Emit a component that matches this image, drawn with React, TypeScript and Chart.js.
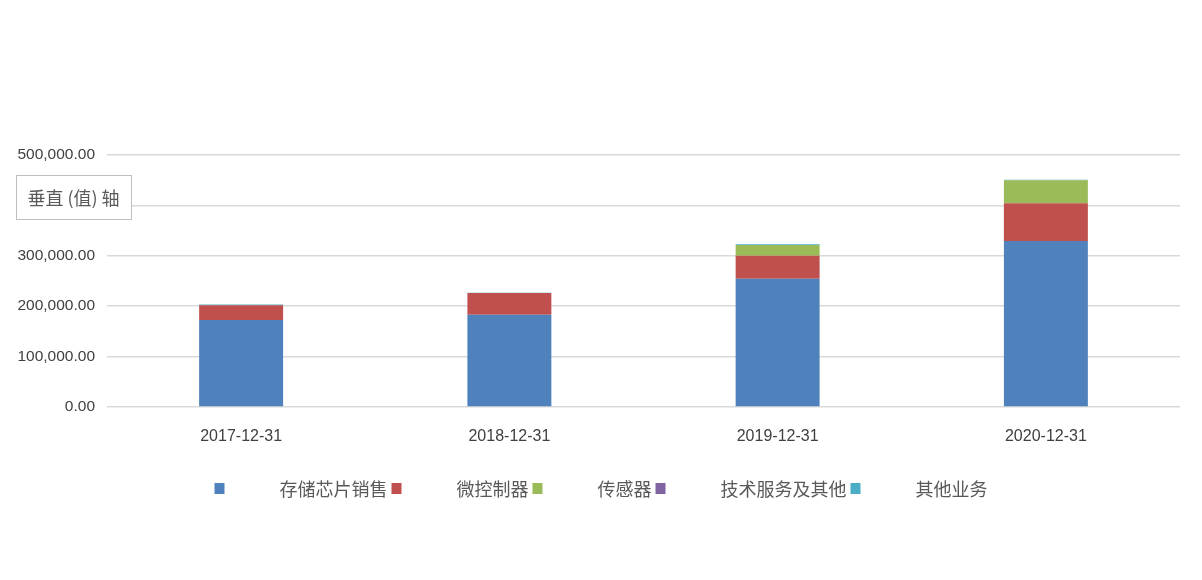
import React, { useEffect, useRef } from "react";
import { Chart, registerables } from "chart.js";

Chart.register(...registerables);

const categories = ["2017-12-31", "2018-12-31", "2019-12-31", "2020-12-31"];
const seriesNames = ["存储芯片销售", "微控制器", "传感器", "技术服务及其他", "其他业务"];
const storageChips = [172400, 183000, 254500, 329400];
const microcontrollers = [29600, 43000, 45500, 75000];
const sensors = [0, 0, 21500, 45300];
const techServices = [0, 0, 0, 0];
const otherBusiness = [1500, 600, 1500, 1200];
const seriesColors = ["#4F81BD", "#C0504D", "#9BBB59", "#8064A2", "#4BACC6"];
const yTicks = [0, 100000, 200000, 300000, 400000, 500000];
const axisTitle = "垂直 (值) 轴";

const CJK = '"Noto Sans CJK SC", "Noto Sans", sans-serif';

const legendAndTitle = {
  id: "customLegendAndTitle",
  afterDraw(chart: any) {
    const ctx = chart.ctx as CanvasRenderingContext2D;
    ctx.save();
    // legend
    ctx.font = `18px ${CJK}`;
    ctx.textBaseline = "middle";
    ctx.textAlign = "left";
    const boxW = 10;
    const gap = 55;
    const between = 4;
    const ds = chart.data.datasets;
    const widths = ds.map((d: any) => ctx.measureText(d.label).width);
    let total = 0;
    widths.forEach((w: number) => (total += boxW + gap + w));
    total += between * (ds.length - 1);
    let x = 601 - total / 2;
    const cy = 489;
    ds.forEach((d: any, i: number) => {
      ctx.fillStyle = d.backgroundColor;
      ctx.fillRect(x, cy - 6, boxW, 11);
      x += boxW + gap;
      ctx.fillStyle = "#595959";
      ctx.fillText(d.label, x, cy);
      x += widths[i] + between;
    });
    // axis title box
    ctx.fillStyle = "#ffffff";
    ctx.fillRect(16, 175, 116, 45);
    ctx.strokeStyle = "#bfbfbf";
    ctx.lineWidth = 1;
    ctx.strokeRect(16.5, 175.5, 115, 44);
    ctx.fillStyle = "#595959";
    ctx.textAlign = "center";
    ctx.font = `18px ${CJK}`;
    ctx.fillText(axisTitle, 73.5, 198);
    ctx.restore();
  },
};

export default function App() {
  const ref = useRef<HTMLCanvasElement | null>(null);
  useEffect(() => {
    if (!ref.current) return;
    const values = [storageChips, microcontrollers, sensors, techServices, otherBusiness];
    const chart = new Chart(ref.current, {
      type: "bar",
      data: {
        labels: categories,
        datasets: values.map((v, i) => ({
          label: seriesNames[i],
          data: v,
          backgroundColor: seriesColors[i],
          borderWidth: 0,
          categoryPercentage: 1,
          barPercentage: 0.313,
        })),
      },
      options: {
        responsive: false,
        animation: false,
        layout: { padding: { top: 155, right: 22, bottom: 113, left: 0 } },
        plugins: { legend: { display: false }, tooltip: { enabled: false } },
        scales: {
          x: {
            stacked: true,
            grid: { display: false },
            border: { display: false },
            ticks: {
              color: "#404040",
              font: { family: '"Liberation Sans", sans-serif', size: 16 },
              padding: 12,
              maxRotation: 0,
            },
            afterFit(scale: any) {
              scale.height = 60;
            },
          },
          y: {
            stacked: true,
            min: 0,
            max: 500000,
            afterBuildTicks(scale: any) {
              scale.ticks = yTicks.map((v) => ({ value: v }));
            },
            grid: { color: "#d9d9d9", lineWidth: 1.5, drawTicks: false },
            border: { display: false },
            ticks: {
              color: "#404040",
              font: { family: '"Liberation Sans", sans-serif', size: 15.5 },
              padding: 12,
              callback: (v: any) =>
                Number(v).toLocaleString("en-US", { minimumFractionDigits: 2, maximumFractionDigits: 2 }),
            },
            afterFit(scale: any) {
              scale.width = 107;
            },
          },
        },
      },
      plugins: [legendAndTitle],
    });
    return () => chart.destroy();
  }, []);
  return (
    <div style={{ position: "absolute", left: 0, top: 0, width: 1202, height: 580, background: "#fff" }}>
      <canvas ref={ref} width={1202} height={580} style={{ display: "block" }} />
    </div>
  );
}
